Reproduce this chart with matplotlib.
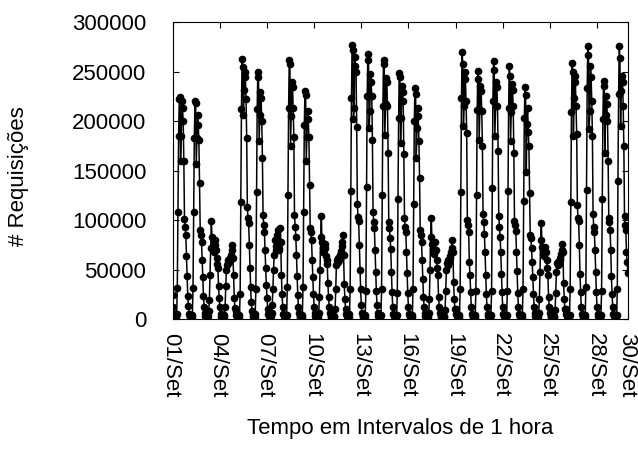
import numpy as np
import matplotlib.pyplot as plt
import matplotlib.transforms as mtransforms

plt.rcParams['font.family'] = ['Liberation Sans', 'DejaVu Sans']

### hourly requests, one list per day (00h .. 23h)
sep01 = [24000, 12000, 5000, 3000, 2000, 2000, 5000, 31000, 108000, 185000, 222000, 224000, 160000, 185000, 220000, 213000, 200000, 160000, 101000, 93000, 85000, 64000, 43000, 23000]
sep02 = [13000, 5000, 3000, 2000, 1000, 2000, 4000, 31000, 108000, 183000, 220000, 218000, 157000, 183000, 206000, 196000, 181000, 138000, 90000, 85000, 78000, 60000, 42000, 23000]
sep03 = [12000, 6000, 3000, 2000, 1000, 1000, 3000, 8000, 19000, 44000, 72000, 99000, 83000, 73000, 70000, 68000, 75000, 80000, 70000, 62000, 56000, 52000, 33000, 21000]
sep04 = [12000, 5000, 2000, 1000, 1000, 1000, 2000, 4000, 12000, 33000, 50000, 55000, 60000, 57000, 58000, 62000, 60000, 65000, 70000, 75000, 62000, 44000, 21000, 11000]
sep05 = [8000, 4000, 2000, 1000, 1000, 2000, 4000, 25000, 118000, 212000, 263000, 255000, 206000, 232000, 250000, 245000, 222000, 183000, 113000, 102000, 97000, 75000, 52000, 32000]
sep06 = [17000, 8000, 4000, 2000, 1000, 2000, 5000, 30000, 128000, 212000, 250000, 245000, 180000, 206000, 230000, 223000, 200000, 163000, 105000, 95000, 88000, 70000, 52000, 34000]
sep07 = [21000, 10000, 5000, 3000, 2000, 2000, 3000, 6000, 14000, 30000, 50000, 65000, 80000, 74000, 70000, 85000, 82000, 90000, 72000, 70000, 92000, 78000, 44000, 25000]
sep08 = [12000, 5000, 3000, 2000, 1000, 2000, 4000, 32000, 125000, 213000, 262000, 258000, 175000, 205000, 240000, 235000, 213000, 184000, 105000, 93000, 83000, 65000, 43000, 24000]
sep09 = [12000, 6000, 3000, 2000, 1000, 2000, 4000, 32000, 108000, 196000, 231000, 226000, 160000, 184000, 210000, 202000, 184000, 135000, 92000, 88000, 80000, 60000, 42000, 25000]
sep10 = [12000, 6000, 3000, 2000, 1000, 1000, 2000, 6000, 22000, 50000, 83000, 104000, 78000, 72000, 68000, 70000, 76000, 72000, 64000, 60000, 56000, 36000, 22000, 12000]
sep11 = [6000, 3000, 2000, 1000, 1000, 1000, 2000, 3000, 10000, 30000, 55000, 60000, 58000, 62000, 60000, 63000, 65000, 69000, 74000, 78000, 85000, 65000, 35000, 20000]
sep12 = [10000, 5000, 3000, 2000, 1000, 2000, 5000, 30000, 129000, 223000, 277000, 272000, 202000, 213000, 265000, 256000, 250000, 194000, 116000, 103000, 99000, 75000, 50000, 30000]
sep13 = [14000, 6000, 3000, 2000, 1000, 2000, 4000, 28000, 133000, 225000, 268000, 262000, 193000, 210000, 248000, 240000, 225000, 181000, 108000, 98000, 92000, 70000, 48000, 28000]
sep14 = [14000, 6000, 3000, 2000, 1000, 2000, 4000, 30000, 125000, 215000, 262000, 258000, 186000, 217000, 244000, 240000, 215000, 168000, 98000, 92000, 82000, 71000, 48000, 27000]
sep15 = [12000, 5000, 3000, 2000, 1000, 2000, 4000, 26000, 121000, 203000, 249000, 245000, 178000, 203000, 236000, 230000, 220000, 167000, 102000, 93000, 88000, 68000, 47000, 26000]
sep16 = [12000, 5000, 3000, 2000, 1000, 2000, 4000, 30000, 116000, 200000, 234000, 228000, 163000, 193000, 213000, 205000, 180000, 143000, 90000, 85000, 78000, 60000, 40000, 22000]
sep17 = [12000, 6000, 3000, 2000, 1000, 1000, 2000, 6000, 20000, 50000, 83000, 102000, 76000, 71000, 68000, 66000, 70000, 78000, 70000, 60000, 52000, 44000, 22000, 12000]
sep18 = [6000, 3000, 2000, 1000, 1000, 1000, 2000, 3000, 9000, 28000, 50000, 57000, 55000, 60000, 58000, 62000, 64000, 68000, 72000, 80000, 68000, 37000, 20000, 10000]
sep19 = [10000, 5000, 3000, 2000, 1000, 2000, 4000, 30000, 128000, 223000, 270000, 258000, 195000, 215000, 250000, 243000, 220000, 188000, 100000, 95000, 88000, 58000, 44000, 27000]
sep20 = [12000, 5000, 3000, 2000, 1000, 2000, 4000, 28000, 125000, 211000, 251000, 243000, 181000, 211000, 236000, 231000, 210000, 175000, 106000, 98000, 86000, 68000, 45000, 25000]
sep21 = [12000, 5000, 3000, 2000, 1000, 2000, 4000, 28000, 132000, 220000, 261000, 252000, 185000, 215000, 240000, 235000, 215000, 170000, 104000, 93000, 83000, 68000, 46000, 27000]
sep22 = [12000, 5000, 3000, 2000, 1000, 2000, 4000, 28000, 129000, 213000, 256000, 246000, 180000, 209000, 238000, 232000, 215000, 168000, 99000, 95000, 89000, 68000, 49000, 26000]
sep23 = [12000, 5000, 3000, 2000, 1000, 2000, 4000, 30000, 119000, 203000, 235000, 226000, 149000, 197000, 213000, 189000, 175000, 127000, 85000, 82000, 72000, 58000, 42000, 25000]
sep24 = [12000, 6000, 3000, 2000, 1000, 1000, 2000, 6000, 20000, 48000, 80000, 97000, 73000, 69000, 66000, 64000, 68000, 73000, 68000, 60000, 52000, 44000, 22000, 12000]
sep25 = [6000, 3000, 2000, 1000, 1000, 1000, 2000, 3000, 9000, 26000, 48000, 57000, 55000, 58000, 56000, 60000, 62000, 66000, 70000, 76000, 68000, 36000, 20000, 10000]
sep26 = [10000, 5000, 3000, 2000, 1000, 2000, 4000, 30000, 118000, 209000, 259000, 250000, 185000, 223000, 246000, 240000, 215000, 187000, 115000, 102000, 99000, 75000, 46000, 27000]
sep27 = [12000, 5000, 3000, 2000, 1000, 2000, 4000, 32000, 130000, 234000, 276000, 267000, 192000, 210000, 256000, 245000, 220000, 185000, 106000, 93000, 88000, 70000, 48000, 27000]
sep28 = [12000, 5000, 3000, 2000, 1000, 2000, 4000, 28000, 121000, 202000, 241000, 236000, 168000, 206000, 225000, 217000, 200000, 160000, 102000, 98000, 90000, 70000, 43000, 25000]
sep29 = [12000, 5000, 3000, 2000, 1000, 2000, 4000, 30000, 140000, 228000, 276000, 264000, 195000, 231000, 246000, 240000, 215000, 175000, 104000, 95000, 90000, 68000, 58000, 47000]

days = [sep01, sep02, sep03, sep04, sep05, sep06, sep07, sep08, sep09, sep10,
        sep11, sep12, sep13, sep14, sep15, sep16, sep17, sep18, sep19, sep20,
        sep21, sep22, sep23, sep24, sep25, sep26, sep27, sep28, sep29]
requests = np.concatenate(days)
hours = np.arange(len(requests))

tick_labels = ["01/Set", "04/Set", "07/Set", "10/Set", "13/Set", "16/Set",
               "19/Set", "22/Set", "25/Set", "28/Set", "30/Set"]
tick_pos = [0, 72, 144, 216, 288, 360, 432, 504, 576, 648, 696]

fig = plt.figure(figsize=(6.38, 4.61), dpi=100)
ax = fig.add_axes([0.2707, 0.308, 0.7143, 0.6436])

ax.plot(hours, requests, color="black", lw=1.1, marker="o", ms=4.5)

ax.set_xlim(0, 696)
ax.set_ylim(0, 300000)
ax.set_yticks(np.arange(0, 300001, 50000))
ax.set_xticks(tick_pos)
ax.set_xticklabels(tick_labels, rotation=-90, va="top", ha="center")
ax.tick_params(direction="in", top=True, right=True, length=4, labelsize=16)
ax.tick_params(axis="y", pad=19)
ax.tick_params(axis="x", pad=10)

# nudge the rotated date labels a little to the left, like gnuplot does
shift = mtransforms.ScaledTranslation(-2 / 100, 0, fig.dpi_scale_trans)
for lbl in ax.get_xticklabels():
    lbl.set_transform(lbl.get_transform() + shift)

ax.set_xlabel("Tempo em Intervalos de 1 hora", fontsize=16)
ax.set_ylabel("# Requisições", fontsize=16)
ax.xaxis.set_label_coords(0.5, -0.335)
ax.yaxis.set_label_coords(-0.315, 0.482)

fig.savefig("out.png", dpi=100)
